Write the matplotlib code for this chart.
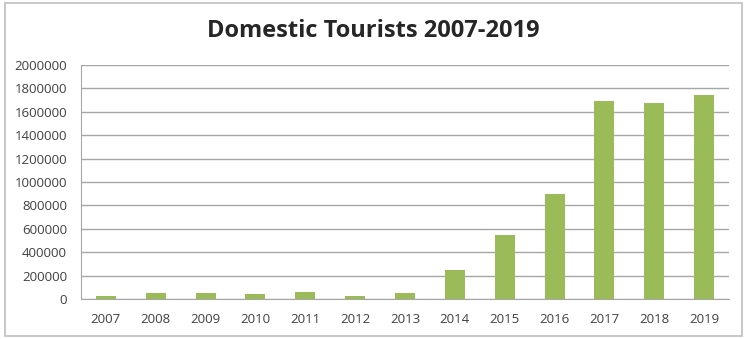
import matplotlib.pyplot as plt
from matplotlib.patches import Rectangle

years = ['2007', '2008', '2009', '2010', '2011', '2012', '2013',
         '2014', '2015', '2016', '2017', '2018', '2019']
tourists = [25000, 54000, 55000, 45000, 62000, 28000, 51000,
            248000, 547000, 897000, 1695000, 1675000, 1744000]
yticks = list(range(0, 2000001, 200000))

plt.rcParams['font.family'] = ['Open Sans', 'DejaVu Sans']

fig = plt.figure(figsize=(7.47, 3.39), dpi=100)
ax = fig.add_axes([81 / 747, 1 - 299 / 339, 648 / 747, 234 / 339])

ax.bar(years, tourists, width=0.4, color='#9bbb59', zorder=3)
ax.set_ylim(0, 2000000)
ax.set_xlim(-0.5, len(years) - 0.5)
ax.set_yticks(yticks)
ax.set_yticklabels([str(v) for v in yticks])
ax.grid(axis='y', color='#a6a6a6', linewidth=1, zorder=0)
ax.tick_params(length=0, labelsize=9.5, colors='#404040')
ax.tick_params(axis='y', pad=10)
ax.tick_params(axis='x', pad=10)
for s in ['top', 'right']:
    ax.spines[s].set_visible(False)
for s in ['left', 'bottom']:
    ax.spines[s].set_color('#a6a6a6')

fig.text(0.5, 1 - 31 / 339, 'Domestic Tourists 2007-2019', ha='center', va='center',
         fontsize=17, fontweight='bold', color='#262626')

fig.patches.append(Rectangle((5 / 747, 3 / 339), 737 / 747, 333 / 339,
                             transform=fig.transFigure, fill=False,
                             edgecolor='#bfbfbf', linewidth=1.2))

fig.savefig('out.png', dpi=100)
